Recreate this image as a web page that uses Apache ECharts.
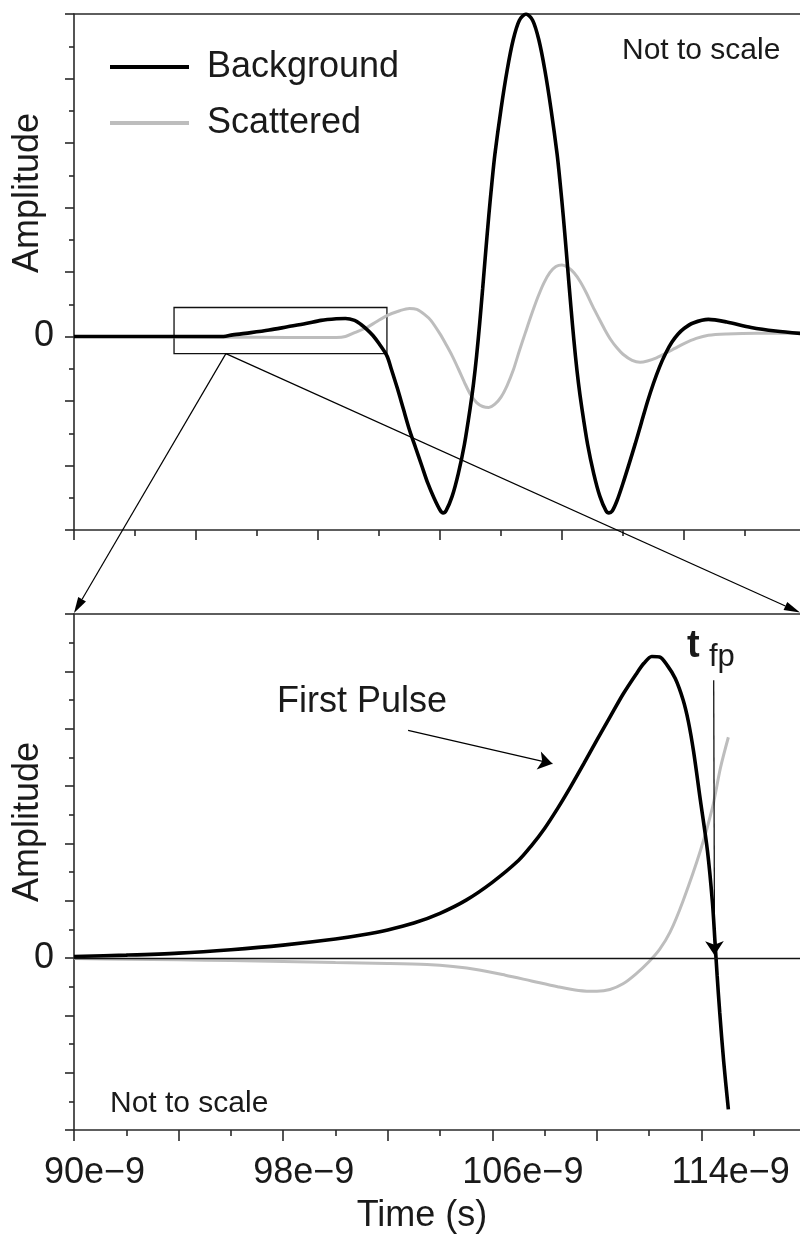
<!DOCTYPE html>
<html><head><meta charset="utf-8">
<script src="https://cdn.jsdelivr.net/npm/echarts@6/dist/echarts.min.js"></script>
<style>html,body{margin:0;padding:0;background:#fff;overflow:hidden}#c{width:800px;height:1241px}</style>
</head><body><div id="c"></div>
<script>
// ---------- DATA ----------
const seriesNames = ['Background', 'Scattered'];

// Top panel (overview, not to scale): x in arbitrary tick units
const topBgX = [0, 1.0, 2.0, 2.45, 2.6, 2.9, 3.2, 3.5, 3.8, 4.05, 4.3, 4.45, 4.6, 4.7, 4.8, 4.9, 5.0, 5.13, 5.2, 5.3, 5.4, 5.5, 5.6, 5.7, 5.8, 5.9, 6.0, 6.05, 6.1, 6.2, 6.3, 6.4, 6.5, 6.55, 6.6, 6.65, 6.7, 6.75, 6.8, 6.85, 6.9, 7.0, 7.1, 7.2, 7.3, 7.41, 7.52, 7.62, 7.72, 7.82, 7.92, 7.97, 8.02, 8.07, 8.12, 8.17, 8.22, 8.27, 8.32, 8.42, 8.52, 8.62, 8.72, 8.77, 8.82, 8.9, 9.0, 9.1, 9.2, 9.3, 9.4, 9.5, 9.6, 9.7, 9.8, 9.9, 10.0, 10.15, 10.4, 10.7, 11.1, 11.5, 12.0];
const topBgY = [0, 0, 0, 0, 0.05, 0.12, 0.2, 0.3, 0.4, 0.5, 0.55, 0.56, 0.5, 0.38, 0.22, 0.03, -0.22, -0.6, -1.0, -1.6, -2.25, -2.9, -3.45, -4.0, -4.55, -5.0, -5.38, -5.47, -5.4, -4.95, -4.25, -3.35, -2.15, -1.45, -0.6, 0.4, 1.5, 2.65, 3.75, 4.75, 5.65, 7.05, 8.25, 9.2, 9.8, 10.0, 9.8, 9.2, 8.25, 7.05, 5.65, 4.75, 3.75, 2.65, 1.5, 0.4, -0.6, -1.45, -2.15, -3.35, -4.25, -4.95, -5.4, -5.47, -5.42, -5.1, -4.55, -3.95, -3.33, -2.68, -2.03, -1.45, -0.94, -0.52, -0.18, 0.07, 0.25, 0.42, 0.53, 0.45, 0.28, 0.17, 0.08];

const topScX = [0, 2.5, 3.5, 4.3, 4.45, 4.6, 4.8, 4.95, 5.13, 5.34, 5.5, 5.62, 5.75, 5.85, 6.0, 6.1, 6.2, 6.3, 6.4, 6.5, 6.6, 6.7, 6.8, 6.9, 7.0, 7.1, 7.2, 7.3, 7.4, 7.5, 7.6, 7.7, 7.8, 7.9, 8.0, 8.1, 8.2, 8.3, 8.4, 8.5, 8.6, 8.7, 8.8, 8.9, 9.0, 9.15, 9.28, 9.4, 9.55, 9.7, 9.85, 10.0, 10.2, 10.4, 10.7, 11.2, 12.0];
const topScY = [0, -0.02, -0.03, -0.03, 0.0, 0.12, 0.28, 0.45, 0.65, 0.8, 0.87, 0.84, 0.68, 0.5, 0.08, -0.25, -0.6, -1.0, -1.42, -1.8, -2.05, -2.17, -2.2, -2.1, -1.88, -1.52, -1.05, -0.45, 0.12, 0.68, 1.2, 1.65, 1.98, 2.17, 2.22, 2.14, 1.97, 1.7, 1.35, 0.95, 0.58, 0.22, -0.1, -0.35, -0.55, -0.74, -0.8, -0.76, -0.66, -0.52, -0.37, -0.22, -0.06, 0.04, 0.08, 0.1, 0.1];

// Bottom panel (zoom of first pulse): time in ns (labels shown as e-9 s)
const botBgT = [90, 92, 94, 96, 98, 100, 101, 102, 103, 104, 105, 106, 107, 107.5, 108, 108.5, 109, 109.5, 110, 110.5, 111, 111.5, 111.8, 112.1, 112.4, 112.7, 113.0, 113.3, 113.5, 113.7, 113.96, 114.23, 114.42, 114.52, 114.6, 114.7, 114.85, 115.03];
const botBgY = [0.05, 0.1, 0.17, 0.29, 0.45, 0.66, 0.8, 0.98, 1.22, 1.56, 2.02, 2.64, 3.4, 3.92, 4.52, 5.22, 5.98, 6.78, 7.6, 8.4, 9.2, 9.9, 10.28, 10.52, 10.5, 10.2, 9.75, 9.0, 8.25, 7.2, 5.5, 3.74, 1.95, 0.55, -0.6, -1.9, -3.6, -5.28];

const botScT = [90, 92, 94, 96, 98, 100, 102, 103.5, 104.5, 105.5, 106.5, 107.5, 108.5, 109.3, 110.0, 110.5, 111.0, 111.5, 112.0, 112.4, 112.8, 113.3, 113.96, 114.42, 114.73, 115.03];
const botScY = [-0.02, -0.04, -0.06, -0.09, -0.12, -0.16, -0.19, -0.23, -0.3, -0.42, -0.6, -0.8, -1.0, -1.13, -1.16, -1.1, -0.9, -0.55, -0.12, 0.3, 0.9, 2.0, 3.74, 5.24, 6.64, 7.7];

// Axis ranges / ticks
const topXRange = [0, 12];
const topYRange = [-6, 10];
const botXRange = [90, 118];
const botYRange = [-6, 12];
const botXLabels = [90, 98, 106, 114];

// Annotations (data coordinates)
const zoomBox = [[1.64, 0.9], [5.13, -0.53]];            // top panel rectangle
const zoomArrowFrom = [2.49, -0.53];                      // top panel, box bottom
const zoomArrowTo = [[90, 12], [117.77, 12.05]];          // bottom panel corners
const firstPulseArrow = [[102.78, 7.94], [108.3, 6.78]];  // bottom panel
const tfpArrow = [[114.47, 9.69], [114.5, 0.1]];          // bottom panel

// ---------- CHART ----------
const FONT = '"Liberation Sans", Arial, Helvetica, sans-serif';
const TXT = '#1a1a1a';
const AX = '#2a2a2a';
const zip = (a, b) => a.map((v, i) => [v, b[i]]);

const chart = echarts.init(document.getElementById('c'), null, {renderer: 'canvas'});

const axLine = {show: true, lineStyle: {color: AX, width: 1.6}};
function mkX(grid, range, opts) {
  return Object.assign({
    type: 'value', gridIndex: grid, min: range[0], max: range[1],
    axisLine: Object.assign({onZero: false}, axLine),
    splitLine: {show: false}, minorSplitLine: {show: false}
  }, opts);
}

const option = {
  backgroundColor: '#ffffff',
  animation: false,
  textStyle: {fontFamily: FONT},
  grid: [
    {left: 74, width: 732, top: 14, height: 516, containLabel: false, outerBoundsMode: 'none'},
    {left: 74, width: 732, top: 614, height: 516, containLabel: false, outerBoundsMode: 'none'}
  ],
  legend: {
    data: seriesNames,
    orient: 'vertical', left: 110, top: 49, padding: 0,
    icon: 'rect',
    itemWidth: 79, itemHeight: 4, itemGap: 20,
    textStyle: {fontSize: 36, color: TXT, fontFamily: FONT, lineHeight: 36, padding: [0, 0, 0, 13]}
  },
  xAxis: [
    mkX(0, topXRange, {
      interval: 2,
      axisTick: {show: true, length: 10, lineStyle: {color: AX, width: 1.6}},
      minorTick: {show: true, splitNumber: 2, length: 6, lineStyle: {color: AX, width: 1.6}},
      axisLabel: {show: false}
    }),
    mkX(0, topXRange, {position: 'top', axisTick: {show: false}, axisLabel: {show: false}}),
    mkX(1, botXRange, {
      interval: 4,
      axisTick: {show: true, length: 11, lineStyle: {color: AX, width: 1.6}},
      minorTick: {show: true, splitNumber: 2, length: 6, lineStyle: {color: AX, width: 1.6}},
      axisLabel: {
        show: true, fontSize: 36, color: TXT, fontFamily: FONT, margin: 25,
        align: 'left', padding: [0, 0, 0, -30],
        formatter: v => botXLabels.some(l => Math.abs(l - v) < 1e-6) ? Math.round(v) + 'e\u22129' : ''
      },
      name: 'Time (s)', nameLocation: 'middle', nameGap: 68,
      nameTextStyle: {fontSize: 36, color: TXT, fontFamily: FONT, padding: [0, 36, 0, 0]}
    }),
    mkX(1, botXRange, {position: 'top', axisTick: {show: false}, axisLabel: {show: false}})
  ],
  yAxis: [0, 1].map(g => ({
    type: 'value', gridIndex: g,
    min: g === 0 ? topYRange[0] : botYRange[0],
    max: g === 0 ? topYRange[1] : botYRange[1],
    interval: 2,
    axisLine: Object.assign({onZero: false}, axLine),
    axisTick: {show: true, length: 9, lineStyle: {color: AX, width: 1.6}},
    minorTick: {show: true, splitNumber: 2, length: 5, lineStyle: {color: AX, width: 1.6}},
    splitLine: {show: false}, minorSplitLine: {show: false},
    axisLabel: {show: true, fontSize: 36, color: TXT, fontFamily: FONT, margin: 20,
      formatter: v => Math.abs(v) < 1e-9 ? '0' : ''}
  })),
  series: [
    {
      name: 'Scattered', type: 'line', xAxisIndex: 0, yAxisIndex: 0, z: 2,
      data: zip(topScX, topScY), showSymbol: false, symbol: 'none', smooth: 0.3,
      lineStyle: {color: '#bdbdbd', width: 3}, itemStyle: {color: '#bdbdbd'}
    },
    {
      name: 'Background', type: 'line', xAxisIndex: 0, yAxisIndex: 0, z: 3,
      data: zip(topBgX, topBgY), showSymbol: false, symbol: 'none', smooth: 0.3,
      lineStyle: {color: '#000', width: 3.6}, itemStyle: {color: '#000'},
      markArea: {
        silent: true,
        itemStyle: {color: 'rgba(0,0,0,0)', borderColor: '#111', borderWidth: 1.3},
        data: [[{coord: zoomBox[0]}, {coord: zoomBox[1]}]]
      }
    },
    {
      name: 'Scattered', type: 'line', xAxisIndex: 2, yAxisIndex: 1, z: 2,
      data: zip(botScT, botScY), showSymbol: false, symbol: 'none', smooth: 0.3,
      lineStyle: {color: '#bdbdbd', width: 3}, itemStyle: {color: '#bdbdbd'},
      markLine: {
        silent: true, symbol: ['none', 'none'], label: {show: false},
        lineStyle: {color: '#111', width: 1.3, type: 'solid'},
        data: [{yAxis: 0}]
      }
    },
    {
      name: 'Background', type: 'line', xAxisIndex: 2, yAxisIndex: 1, z: 3,
      data: zip(botBgT, botBgY), showSymbol: false, symbol: 'none', smooth: 0.3,
      lineStyle: {color: '#000', width: 3.6}, itemStyle: {color: '#000'},
      markLine: {
        silent: true, symbol: ['none', 'arrow'], symbolSize: 14, label: {show: false},
        lineStyle: {color: '#000', width: 1.2, type: 'solid'},
        data: [
          [{coord: firstPulseArrow[0]}, {coord: firstPulseArrow[1]}],
          [{coord: tfpArrow[0]}, {coord: tfpArrow[1]}]
        ]
      }
    }
  ],
  graphic: [
    {type: 'text', id: 'nts1', x: 622, y: 51, style: {text: 'Not to scale', font: '30px ' + FONT, fill: TXT, textAlign: 'left', textVerticalAlign: 'middle'}},
    {type: 'text', id: 'nts2', x: 110, y: 1104, style: {text: 'Not to scale', font: '30px ' + FONT, fill: TXT, textAlign: 'left', textVerticalAlign: 'middle'}},
    {type: 'text', id: 'fp', x: 277, y: 702, style: {text: 'First Pulse', font: '36px ' + FONT, fill: TXT, textAlign: 'left', textVerticalAlign: 'middle'}},
    {type: 'text', id: 'tt', x: 687, y: 647, style: {text: 't', font: 'bold 38px ' + FONT, fill: TXT, textAlign: 'left', textVerticalAlign: 'middle'}},
    {type: 'text', id: 'tsub', x: 709, y: 657, style: {text: 'fp', font: '31px ' + FONT, fill: TXT, textAlign: 'left', textVerticalAlign: 'middle'}},
    {type: 'text', id: 'amp1', x: 28, y: 193, rotation: Math.PI / 2, style: {text: 'Amplitude', font: '36px ' + FONT, fill: TXT, textAlign: 'center', textVerticalAlign: 'middle'}},
    {type: 'text', id: 'amp2', x: 28, y: 822, rotation: Math.PI / 2, style: {text: 'Amplitude', font: '36px ' + FONT, fill: TXT, textAlign: 'center', textVerticalAlign: 'middle'}}
  ]
};
chart.setOption(option);

// Zoom arrows from the top-panel box to the corners of the bottom panel
function arrow(id, p0, p1, L, W) {
  const dx = p1[0] - p0[0], dy = p1[1] - p0[1];
  const len = Math.hypot(dx, dy);
  const ux = dx / len, uy = dy / len, nx = -uy, ny = ux;
  const bx = p1[0] - ux * L, by = p1[1] - uy * L;
  return [
    {type: 'line', id: id + 'l', z: 50, shape: {x1: p0[0], y1: p0[1], x2: bx, y2: by}, style: {stroke: '#000', lineWidth: 1.2}},
    {type: 'polygon', id: id + 'h', z: 50, shape: {points: [[p1[0], p1[1]], [bx + nx * W / 2, by + ny * W / 2], [bx - nx * W / 2, by - ny * W / 2]]}, style: {fill: '#000'}}
  ];
}
const pFrom = chart.convertToPixel({xAxisIndex: 0, yAxisIndex: 0}, zoomArrowFrom);
const pLeft = chart.convertToPixel({xAxisIndex: 2, yAxisIndex: 1}, zoomArrowTo[0]);
const pRight = chart.convertToPixel({xAxisIndex: 2, yAxisIndex: 1}, zoomArrowTo[1]);
chart.setOption({graphic: arrow('a1', pFrom, [pLeft[0], pLeft[1] - 1], 16, 9).concat(arrow('a2', pFrom, pRight, 16, 9))});
</script></body></html>
